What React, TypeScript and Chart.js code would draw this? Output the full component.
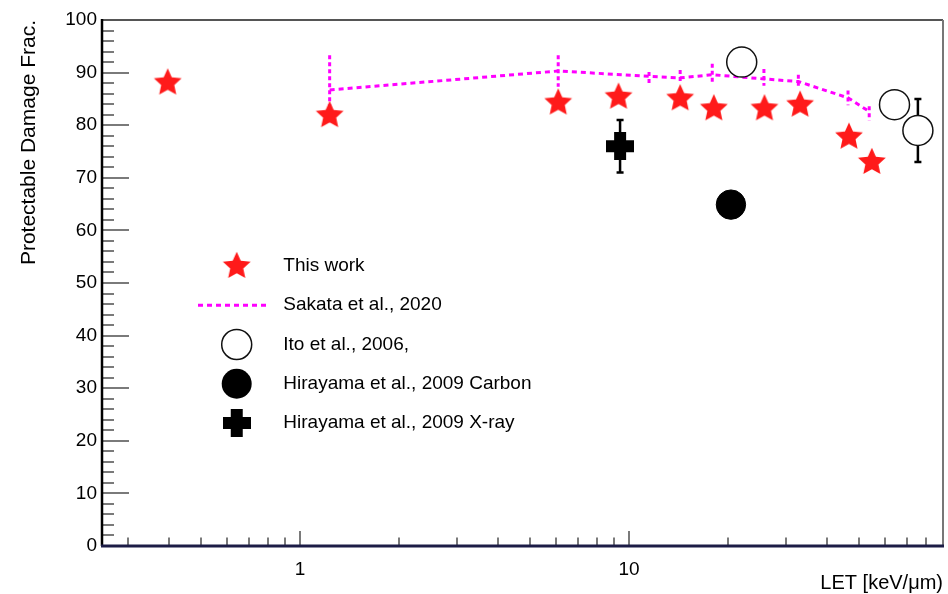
import React, { useEffect, useRef } from 'react';
import { Chart, registerables } from 'chart.js';

Chart.register(...registerables);

// ---- data ----
const thisWorkLET = [0.396, 1.23, 6.09, 9.29, 14.3, 18.1, 25.8, 33.1, 46.6, 54.7];
const thisWorkFrac = [88.3, 82.1, 84.5, 85.6, 85.3, 83.4, 83.4, 84.1, 78.0, 73.2];

const sakataLET = [1.23, 6.09, 11.5, 14.3, 17.9, 25.7, 32.7, 46.3, 53.7];
const sakataFrac = [86.7, 90.3, 89.3, 89.0, 89.6, 88.8, 88.3, 85.2, 82.6];
const sakataLow = [80.1, 87.3, 87.5, 87.9, 87.9, 87.5, 87.4, 83.8, 80.9];
const sakataHigh = [93.3, 93.3, 90.1, 90.5, 91.7, 90.7, 89.6, 86.6, 83.6];

const itoLET = [22.0, 64.1, 75.5];
const itoFrac = [92.0, 83.9, 79.0];
const itoErr = [0, 0, 6.0];

const carbonLET = [20.4];
const carbonFrac = [64.9];

const xrayLET = [9.39];
const xrayFrac = [76.0];
const xrayErr = [5.0];

const yTickValues = [0, 10, 20, 30, 40, 50, 60, 70, 80, 90, 100];
const xTickValues = [1, 10];

const labels = [
  'This work',
  'Sakata et al., 2020',
  'Ito et al., 2006,',
  'Hirayama et al., 2009 Carbon',
  'Hirayama et al., 2009 X-ray',
];

const FONT = '"Liberation Sans", Arial, Helvetica, sans-serif';

// ---- marker images ----
function makeStar(): HTMLCanvasElement {
  const c = document.createElement('canvas');
  c.width = 32;
  c.height = 32;
  const g = c.getContext('2d')!;
  const R = 14.6;
  const r = R * 0.47;
  const cx = 16;
  const cy = 17.3;
  g.beginPath();
  for (let i = 0; i < 10; i++) {
    const ang = -Math.PI / 2 + (i * Math.PI) / 5;
    const rad = i % 2 === 0 ? R : r;
    const px = cx + rad * Math.cos(ang);
    const py = cy + rad * Math.sin(ang);
    if (i === 0) g.moveTo(px, py);
    else g.lineTo(px, py);
  }
  g.closePath();
  g.fillStyle = '#ff1a1a';
  g.fill();
  return c;
}

function makeCross(): HTMLCanvasElement {
  const c = document.createElement('canvas');
  c.width = 28;
  c.height = 28;
  const g = c.getContext('2d')!;
  g.fillStyle = '#000';
  g.fillRect(0, 8, 28, 12);
  g.fillRect(8, 0, 12, 28);
  return c;
}

function drawErrBar(ctx: CanvasRenderingContext2D, x: number, y1: number, y2: number, cap: number) {
  ctx.beginPath();
  ctx.moveTo(x, y1);
  ctx.lineTo(x, y2);
  if (cap > 0) {
    ctx.moveTo(x - cap, y1);
    ctx.lineTo(x + cap, y1);
    ctx.moveTo(x - cap, y2);
    ctx.lineTo(x + cap, y2);
  }
  ctx.stroke();
}

export default function App() {
  const ref = useRef<HTMLCanvasElement>(null);

  useEffect(() => {
    const canvas = ref.current!;
    const star = makeStar();
    const cross = makeCross();

    const framePlugin = {
      id: 'frameTicks',
      beforeDatasetsDraw(chart: any) {
        const ctx: CanvasRenderingContext2D = chart.ctx;
        const a = chart.chartArea;
        const xs = chart.scales.x;
        const ys = chart.scales.y;
        ctx.save();
        // y ticks (inside)
        ctx.strokeStyle = '#7a7a7a';
        ctx.lineWidth = 2;
        ctx.beginPath();
        for (let v = 0; v <= 100; v += 2) {
          const py = Math.round(ys.getPixelForValue(v));
          const len = v % 10 === 0 ? 27 : 12;
          ctx.moveTo(a.left, py);
          ctx.lineTo(a.left + len, py);
        }
        ctx.stroke();
        // x ticks (inside)
        ctx.beginPath();
        for (let d = 0.1; d < 1000; d *= 10) {
          for (let m = 1; m <= 9; m++) {
            const v = d * m;
            if (v < xs.min || v > xs.max) continue;
            const px = Math.round(xs.getPixelForValue(v));
            const len = m === 1 ? 15 : 8.5;
            ctx.moveTo(px, a.bottom);
            ctx.lineTo(px, a.bottom - len);
          }
        }
        ctx.stroke();

        // error bars (under markers)
        ctx.strokeStyle = '#ff00ff';
        ctx.lineWidth = 3;
        ctx.setLineDash([4, 3]);
        for (let i = 0; i < sakataLET.length; i++) {
          const px = xs.getPixelForValue(sakataLET[i]);
          drawErrBar(ctx, px, ys.getPixelForValue(sakataHigh[i]), ys.getPixelForValue(sakataLow[i]), 0);
        }
        ctx.setLineDash([]);
        ctx.strokeStyle = '#000';
        ctx.lineWidth = 2.5;
        for (let i = 0; i < itoLET.length; i++) {
          if (!itoErr[i]) continue;
          const px = xs.getPixelForValue(itoLET[i]);
          drawErrBar(ctx, px, ys.getPixelForValue(itoFrac[i] + itoErr[i]), ys.getPixelForValue(itoFrac[i] - itoErr[i]), 3.5);
        }
        for (let i = 0; i < xrayLET.length; i++) {
          const px = xs.getPixelForValue(xrayLET[i]);
          drawErrBar(ctx, px, ys.getPixelForValue(xrayFrac[i] + xrayErr[i]), ys.getPixelForValue(xrayFrac[i] - xrayErr[i]), 3.5);
        }
        ctx.restore();
      },
      afterDraw(chart: any) {
        const ctx: CanvasRenderingContext2D = chart.ctx;
        const a = chart.chartArea;
        ctx.save();
        // frame
        ctx.lineWidth = 2;
        ctx.strokeStyle = '#555';
        ctx.beginPath();
        ctx.moveTo(a.left, a.top);
        ctx.lineTo(a.right, a.top);
        ctx.stroke();
        ctx.strokeStyle = '#777';
        ctx.beginPath();
        ctx.moveTo(a.right, a.top);
        ctx.lineTo(a.right, a.bottom);
        ctx.stroke();
        ctx.strokeStyle = '#000';
        ctx.lineWidth = 2.5;
        ctx.beginPath();
        ctx.moveTo(a.left, a.top - 1);
        ctx.lineTo(a.left, a.bottom);
        ctx.stroke();
        ctx.strokeStyle = '#1c1c46';
        ctx.lineWidth = 3;
        ctx.beginPath();
        ctx.moveTo(a.left - 1, a.bottom);
        ctx.lineTo(a.right + 1, a.bottom);
        ctx.stroke();

        // axis titles
        ctx.fillStyle = '#000';
        ctx.font = `21px ${FONT}`;
        ctx.save();
        ctx.translate(35, a.top);
        ctx.rotate(-Math.PI / 2);
        ctx.textAlign = 'right';
        ctx.textBaseline = 'alphabetic';
        ctx.fillText('Protectable Damage Frac.', 0, 0);
        ctx.restore();
        ctx.font = `20px ${FONT}`;
        ctx.textAlign = 'right';
        ctx.textBaseline = 'alphabetic';
        ctx.fillText('LET [keV/\u03bcm)', a.right, 589);

        // legend
        const mx = a.left + 134.7;
        const tx = a.left + 181.3;
        const y0 = a.top + 246;
        const dy = 39.25;
        ctx.font = `19px ${FONT}`;
        ctx.textAlign = 'left';
        ctx.textBaseline = 'middle';
        const ds = chart.data.datasets;
        // This work
        ctx.drawImage(star, mx - 16, y0 - 17);
        ctx.fillText(ds[0].label, tx, y0);
        // Sakata
        ctx.strokeStyle = '#ff00ff';
        ctx.lineWidth = 3;
        ctx.setLineDash([5, 4]);
        ctx.beginPath();
        ctx.moveTo(a.left + 96, y0 + dy);
        ctx.lineTo(a.left + 166, y0 + dy);
        ctx.stroke();
        ctx.setLineDash([]);
        ctx.fillText(ds[4].label, tx, y0 + dy);
        // Ito
        ctx.beginPath();
        ctx.arc(mx, y0 + 2 * dy, 15, 0, Math.PI * 2);
        ctx.fillStyle = '#fff';
        ctx.fill();
        ctx.strokeStyle = '#111';
        ctx.lineWidth = 1.5;
        ctx.stroke();
        ctx.fillStyle = '#000';
        ctx.fillText(ds[1].label, tx, y0 + 2 * dy);
        // Carbon
        ctx.beginPath();
        ctx.arc(mx, y0 + 3 * dy, 15, 0, Math.PI * 2);
        ctx.fill();
        ctx.fillText(ds[2].label, tx, y0 + 3 * dy);
        // X-ray
        ctx.drawImage(cross, mx - 14, y0 + 4 * dy - 14);
        ctx.fillText(ds[3].label, tx, y0 + 4 * dy);
        ctx.restore();
      },
    };

    const chart = new Chart(canvas, {
      type: 'scatter',
      data: {
        datasets: [
          {
            label: labels[0],
            data: thisWorkLET.map((x, i) => ({ x, y: thisWorkFrac[i] })),
            pointStyle: star as any,
            pointRadius: 14,
          },
          {
            label: labels[2],
            data: itoLET.map((x, i) => ({ x, y: itoFrac[i] })),
            pointStyle: 'circle',
            pointRadius: 15,
            backgroundColor: '#ffffff',
            borderColor: '#111',
            borderWidth: 1.5,
          },
          {
            label: labels[3],
            data: carbonLET.map((x, i) => ({ x, y: carbonFrac[i] })),
            pointStyle: 'circle',
            pointRadius: 14.7,
            backgroundColor: '#000',
            borderColor: '#000',
            borderWidth: 1,
          },
          {
            label: labels[4],
            data: xrayLET.map((x, i) => ({ x, y: xrayFrac[i] })),
            pointStyle: cross as any,
            pointRadius: 14,
          },
          {
            label: labels[1],
            data: sakataLET.map((x, i) => ({ x, y: sakataFrac[i] })),
            showLine: true,
            borderColor: '#ff00ff',
            borderWidth: 3,
            borderDash: [5, 4],
            pointRadius: 0,
            fill: false,
          },
        ],
      },
      options: {
        animation: false,
        responsive: false,
        devicePixelRatio: 1,
        events: [],
        layout: { autoPadding: false, padding: { top: 20, right: 5, left: 0, bottom: 0 } },
        plugins: {
          legend: { display: false },
          tooltip: { enabled: false },
        },
        scales: {
          x: {
            type: 'logarithmic',
            min: 0.25,
            max: 90,
            bounds: 'data',
            grid: { display: false, drawTicks: false },
            border: { display: false },
            afterBuildTicks: (scale: any) => {
              scale.ticks = xTickValues.map((v) => ({ value: v, major: true }));
            },
            afterFit: (scale: any) => {
              scale.height = 48;
              scale.paddingLeft = 0;
              scale.paddingRight = 0;
            },
            ticks: {
              autoSkip: false,
              maxRotation: 0,
              padding: 12,
              color: '#000',
              font: { family: FONT, size: 19 },
              callback: (v: any) => String(v),
            },
          },
          y: {
            type: 'linear',
            min: 0,
            max: 100,
            grid: { display: false, drawTicks: false },
            border: { display: false },
            afterBuildTicks: (scale: any) => {
              scale.ticks = yTickValues.map((v) => ({ value: v }));
            },
            afterFit: (scale: any) => {
              scale.width = 102;
              scale.paddingTop = 0;
              scale.paddingBottom = 0;
            },
            ticks: {
              padding: 5,
              color: '#000',
              font: { family: FONT, size: 19 },
              callback: (v: any) => String(v),
            },
          },
        },
      },
      plugins: [framePlugin],
    } as any);

    return () => chart.destroy();
  }, []);

  return (
    <div style={{ position: 'absolute', left: 0, top: 0, width: 948, height: 594, background: '#fff' }}>
      <canvas ref={ref} width={948} height={594} style={{ display: 'block', width: 948, height: 594 }} />
    </div>
  );
}
